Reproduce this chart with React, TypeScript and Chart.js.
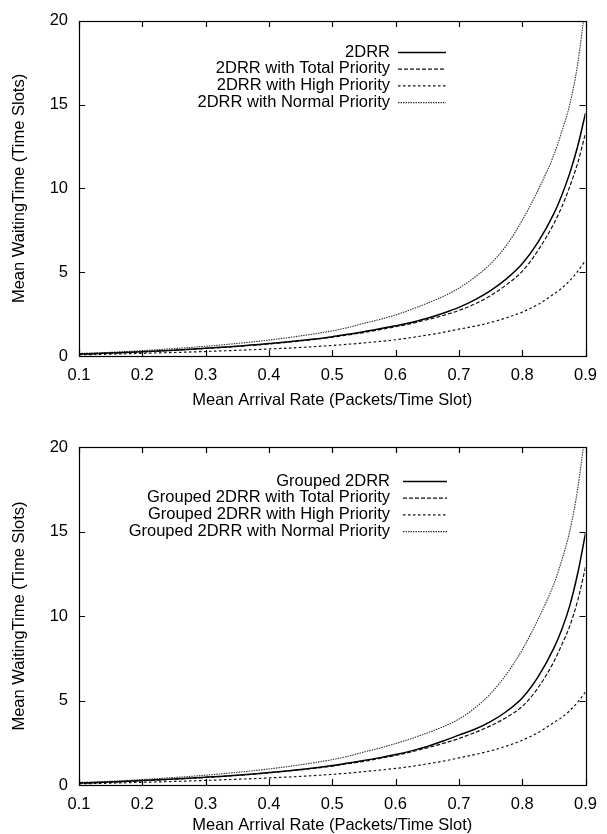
import React, { useEffect, useRef } from "react";
import { Chart, registerables } from "chart.js";

Chart.register(...registerables);

// ---------------- data ----------------
const arrivalRates = [0.1, 0.15, 0.2, 0.25, 0.3, 0.35, 0.4, 0.45, 0.5, 0.525, 0.55, 0.575, 0.6, 0.625, 0.65, 0.675, 0.7, 0.725, 0.75, 0.775, 0.8, 0.825, 0.85, 0.8625, 0.875, 0.8875, 0.9];
const xTickValues = [0.1, 0.2, 0.3, 0.4, 0.5, 0.6, 0.7, 0.8, 0.9];
const yTickValues = [0, 5, 10, 15, 20];

const topLabels = ["2DRR", "2DRR with Total Priority", "2DRR with High Priority", "2DRR with Normal Priority"];
const top2DRR = [0.12, 0.18, 0.26, 0.35, 0.46, 0.58, 0.74, 0.92, 1.15, 1.3, 1.45, 1.62, 1.8, 2.0, 2.25, 2.55, 2.9, 3.35, 3.9, 4.6, 5.5, 6.8, 8.5, 9.6, 10.9, 12.5, 14.5];
const topTotal = [0.11, 0.17, 0.25, 0.34, 0.45, 0.57, 0.72, 0.9, 1.12, 1.26, 1.4, 1.57, 1.75, 1.94, 2.17, 2.42, 2.72, 3.1, 3.6, 4.25, 5.05, 6.3, 7.9, 8.9, 10.1, 11.5, 13.3];
const topHigh = [0.07, 0.11, 0.16, 0.21, 0.27, 0.34, 0.42, 0.51, 0.63, 0.7, 0.78, 0.87, 0.97, 1.1, 1.25, 1.41, 1.6, 1.78, 2.0, 2.28, 2.62, 3.08, 3.7, 4.05, 4.5, 5.05, 5.7];
const topNormal = [0.15, 0.22, 0.32, 0.44, 0.58, 0.75, 0.95, 1.2, 1.5, 1.7, 1.95, 2.18, 2.45, 2.78, 3.15, 3.55, 4.05, 4.7, 5.5, 6.6, 8.1, 9.9, 12.0, 13.4, 15.0, 17.4, 21.0];

const bottomLabels = ["Grouped 2DRR", "Grouped 2DRR with Total Priority", "Grouped 2DRR with High Priority", "Grouped 2DRR with Normal Priority"];
const bottom2DRR = [0.12, 0.18, 0.26, 0.35, 0.46, 0.58, 0.74, 0.92, 1.15, 1.3, 1.45, 1.62, 1.8, 2.02, 2.28, 2.6, 2.95, 3.3, 3.75, 4.35, 5.15, 6.4, 8.1, 9.2, 10.6, 12.5, 14.9];
const bottomTotal = [0.11, 0.17, 0.25, 0.34, 0.45, 0.57, 0.72, 0.9, 1.12, 1.26, 1.4, 1.57, 1.75, 1.96, 2.2, 2.46, 2.75, 3.1, 3.5, 4.0, 4.65, 5.75, 7.3, 8.3, 9.4, 10.9, 12.9];
const bottomHigh = [0.07, 0.11, 0.16, 0.21, 0.27, 0.34, 0.42, 0.51, 0.63, 0.7, 0.79, 0.88, 0.98, 1.1, 1.25, 1.41, 1.6, 1.8, 2.02, 2.3, 2.65, 3.1, 3.7, 4.0, 4.4, 4.9, 5.5];
const bottomNormal = [0.15, 0.22, 0.32, 0.44, 0.58, 0.75, 0.95, 1.2, 1.5, 1.7, 1.95, 2.18, 2.45, 2.75, 3.08, 3.45, 3.9, 4.55, 5.4, 6.55, 8.0, 9.8, 11.9, 13.3, 15.0, 17.5, 21.0];

// ---------------- styles ----------------
const FONT = '"Liberation Sans", Arial, Helvetica, sans-serif';
const FONT_SIZE = 16.5;
const lineStyles = [
  { borderColor: "#000", borderWidth: 1.5, borderDash: [] as number[] },
  { borderColor: "#111", borderWidth: 1.2, borderDash: [4, 2] },
  { borderColor: "#111", borderWidth: 1.2, borderDash: [2.5, 2.5] },
  { borderColor: "#333", borderWidth: 1.1, borderDash: [1.5, 1] },
];

const framePlugin = {
  id: "gnuFrame",
  afterDatasetsDraw(chart: any) {
    const { ctx, chartArea: a, scales } = chart;
    const len = 6;
    ctx.save();
    ctx.strokeStyle = "#000";
    ctx.lineWidth = 1.2;
    ctx.setLineDash([]);
    ctx.beginPath();
    scales.x.ticks.forEach((t: any) => {
      const px = Math.round(scales.x.getPixelForValue(t.value)) + 0.5;
      ctx.moveTo(px, a.bottom);
      ctx.lineTo(px, a.bottom - len);
      ctx.moveTo(px, a.top);
      ctx.lineTo(px, a.top + len);
    });
    scales.y.ticks.forEach((t: any) => {
      const py = Math.round(scales.y.getPixelForValue(t.value)) + 0.5;
      ctx.moveTo(a.left, py);
      ctx.lineTo(a.left + len, py);
      ctx.moveTo(a.right, py);
      ctx.lineTo(a.right - len, py);
    });
    ctx.stroke();
    ctx.strokeRect(Math.round(a.left) + 0.5, Math.round(a.top) + 0.5, Math.round(a.right - a.left), Math.round(a.bottom - a.top));
    ctx.restore();
  },
};

const legendPlugin = {
  id: "gnuLegend",
  afterDraw(chart: any, _args: any, opts: any) {
    const { ctx } = chart;
    ctx.save();
    ctx.font = `${FONT_SIZE}px ${FONT}`;
    ctx.fillStyle = "#000";
    ctx.textAlign = "right";
    ctx.textBaseline = "middle";
    chart.data.datasets.forEach((ds: any, i: number) => {
      const y = opts.top + i * opts.rowHeight;
      ctx.fillText(ds.label, opts.textRight, y);
      ctx.beginPath();
      ctx.strokeStyle = ds.borderColor;
      ctx.lineWidth = ds.borderWidth;
      ctx.setLineDash(ds.borderDash || []);
      ctx.moveTo(opts.lineStart, y + 0.5);
      ctx.lineTo(opts.lineEnd, y + 0.5);
      ctx.stroke();
    });
    ctx.restore();
  },
};

function makeConfig(labels: string[], series: number[][], layout: any): any {
  return {
    type: "line",
    data: {
      datasets: series.map((s, i) => ({
        label: labels[i],
        data: arrivalRates.map((x, j) => ({ x, y: s[j] })),
        ...lineStyles[i],
        pointRadius: 0,
        fill: false,
        cubicInterpolationMode: "monotone",
      })),
    },
    options: {
      responsive: false,
      animation: false,
      events: [],
      layout: { padding: { top: layout.padTop, right: 12, left: 0, bottom: 0 } },
      plugins: {
        legend: { display: false },
        tooltip: { enabled: false },
        gnuLegend: layout.legend,
      },
      scales: {
        x: {
          type: "linear",
          min: 0.1,
          max: 0.9,
          afterBuildTicks: (s: any) => {
            s.ticks = xTickValues.map((v) => ({ value: v }));
          },
          afterFit: (s: any) => {
            s.height = layout.xHeight;
          },
          grid: { display: false, drawTicks: false },
          border: { display: false },
          ticks: {
            padding: 10,
            color: "#000",
            font: { family: FONT, size: FONT_SIZE },
            callback: (v: number) => v.toFixed(1),
            maxRotation: 0,
          },
          title: {
            display: true,
            text: "Mean Arrival Rate (Packets/Time Slot)",
            color: "#000",
            font: { family: FONT, size: FONT_SIZE, lineHeight: layout.titleLH },
            padding: { top: 0, bottom: layout.titlePadBottom },
          },
        },
        y: {
          type: "linear",
          min: 0,
          max: 20,
          afterBuildTicks: (s: any) => {
            s.ticks = yTickValues.map((v) => ({ value: v }));
          },
          afterFit: (s: any) => {
            s.width = 79;
          },
          grid: { display: false, drawTicks: false },
          border: { display: false },
          ticks: {
            padding: 11,
            color: "#000",
            font: { family: FONT, size: FONT_SIZE },
          },
          title: {
            display: true,
            text: "Mean WaitingTime (Time Slots)",
            color: "#000",
            font: { family: FONT, size: FONT_SIZE },
            padding: { top: 10, bottom: 0 },
          },
        },
      },
    },
    plugins: [framePlugin, legendPlugin],
  };
}

function ChartCanvas(props: { top: number; height: number; config: any }) {
  const ref = useRef<HTMLCanvasElement | null>(null);
  useEffect(() => {
    if (!ref.current) return;
    const chart = new Chart(ref.current, props.config);
    return () => chart.destroy();
  }, []);
  return (
    <canvas
      ref={ref}
      width={607}
      height={props.height}
      style={{ position: "absolute", left: 0, top: props.top, width: 607, height: props.height }}
    />
  );
}

export default function App() {
  const topConfig = makeConfig(topLabels, [top2DRR, topTotal, topHigh, topNormal], {
    padTop: 18,
    xHeight: 64,
    titleLH: 1.2,
    titlePadBottom: 10,
    legend: { top: 52, rowHeight: 16.7, textRight: 390, lineStart: 398, lineEnd: 446 },
  });
  const bottomConfig = makeConfig(bottomLabels, [bottom2DRR, bottomTotal, bottomHigh, bottomNormal], {
    padTop: 27,
    xHeight: 49,
    titleLH: 1,
    titlePadBottom: 0,
    legend: { top: 61, rowHeight: 16.7, textRight: 390, lineStart: 403, lineEnd: 447 },
  });
  return (
    <div style={{ position: "fixed", left: 0, top: 0, width: 607, height: 834, background: "#fff" }}>
      <ChartCanvas top={0} height={420} config={topConfig} />
      <ChartCanvas top={420} height={414} config={bottomConfig} />
    </div>
  );
}
